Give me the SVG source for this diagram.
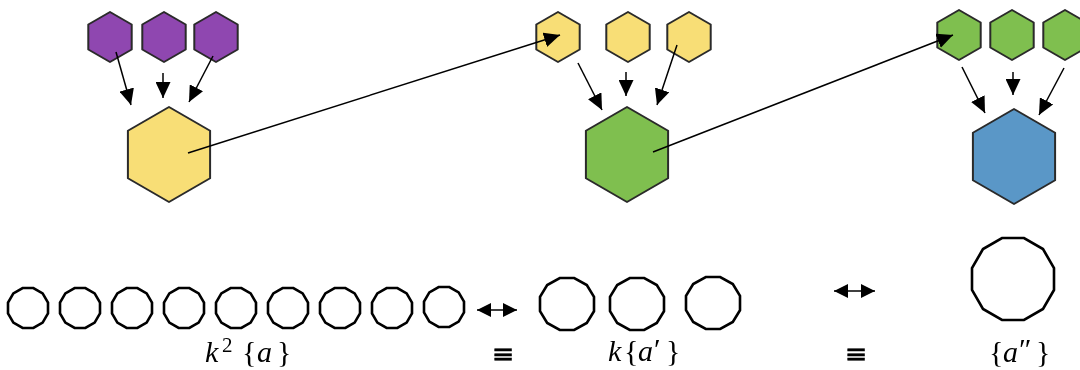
<svg xmlns="http://www.w3.org/2000/svg" width="1080" height="370" viewBox="0 0 1080 370">
  <defs>
    <style>
      .hex { stroke: #2a2a2a; stroke-width: 2; stroke-linejoin: round; }
      .purple { fill: #8f46b0; }
      .yellow { fill: #f8de76; }
      .green { fill: #7fbf4f; }
      .blue { fill: #5a97c7; }
      .edge { stroke: #000; stroke-width: 1.5; fill: none; marker-end: url(#tip); }
      .dbl { stroke: #000; stroke-width: 1.5; fill: none; marker-start: url(#tip2); marker-end: url(#tip2); }
      .ring { fill: #fff; stroke: #000; stroke-width: 2.6; stroke-linejoin: miter; }
      .math { font-family: "Liberation Serif", "DejaVu Serif", serif; font-size: 30px; fill: #000; }
      .it { font-style: italic; }
      .eq { font-family: "DejaVu Sans", "Liberation Sans", sans-serif; font-size: 27px; fill: #000; stroke: #000; stroke-width: 0.5; }
    </style>
    <filter id="soft" x="-10%" y="-10%" width="120%" height="120%">
      <feGaussianBlur stdDeviation="0.5"/>
    </filter>
    <marker id="tip" viewBox="0 0 16 15" refX="16" refY="7.5" markerWidth="16" markerHeight="15" markerUnits="userSpaceOnUse" orient="auto">
      <path d="M0,0 L16,7.5 L0,15 Z" fill="#000"/>
    </marker>
    <marker id="tip2" viewBox="0 0 14 14" refX="14" refY="7" markerWidth="14" markerHeight="14" markerUnits="userSpaceOnUse" orient="auto-start-reverse">
      <path d="M0,0 L14,7 L0,14 Z" fill="#000"/>
    </marker>
    <!-- pointy-top hexagons centred on the origin -->
    <path id="hs" d="M0,-25 L21.7,-12.5 L21.7,12.5 L0,25 L-21.7,12.5 L-21.7,-12.5 Z"/>
    <path id="hb" d="M0,-47.5 L41.1,-23.75 L41.1,23.75 L0,47.5 L-41.1,23.75 L-41.1,-23.75 Z"/>
    <!-- dodecagons (flat on all four sides) -->
    <polygon id="d1" points="20,5.36 14.64,14.64 5.36,20 -5.36,20 -14.64,14.64 -20,5.36 -20,-5.36 -14.64,-14.64 -5.36,-20 5.36,-20 14.64,-14.64 20,-5.36"/>
    <polygon id="d2" points="27,7.2 19.8,19 7.2,26 -7.2,26 -19.8,19 -27,7.2 -27,-7.2 -19.8,-19 -7.2,-26 7.2,-26 19.8,-19 27,-7.2"/>
    <polygon id="d3" points="41,11 30,30 11,41 -11,41 -30,30 -41,11 -41,-11 -30,-30 -11,-41 11,-41 30,-30 41,-11"/>
  </defs>

  <!-- level 0: purple triple feeding the yellow node -->
  <g id="level0" filter="url(#soft)">
    <g id="p1"><use href="#hs" x="110" y="37" class="hex purple"/></g>
    <g id="p2"><use href="#hs" x="164" y="37" class="hex purple"/></g>
    <g id="p3"><use href="#hs" x="216" y="37" class="hex purple"/></g>
    <g id="Y"><use href="#hb" x="169" y="154.5" class="hex yellow"/></g>
  </g>

  <!-- level 1: yellow triple feeding the green node -->
  <g id="level1" filter="url(#soft)">
    <g id="y1"><use href="#hs" x="558" y="37" class="hex yellow"/></g>
    <g id="y2"><use href="#hs" x="628" y="37" class="hex yellow"/></g>
    <g id="y3"><use href="#hs" x="689" y="37" class="hex yellow"/></g>
    <g id="G"><use href="#hb" x="627" y="154.5" class="hex green"/></g>
  </g>

  <!-- level 2: green triple feeding the blue node -->
  <g id="level2" filter="url(#soft)">
    <g id="g1"><use href="#hs" x="959" y="35" class="hex green"/></g>
    <g id="g2"><use href="#hs" x="1012" y="35" class="hex green"/></g>
    <g id="g3"><use href="#hs" x="1065" y="35" class="hex green"/></g>
    <g id="B"><use href="#hb" x="1014" y="156.5" class="hex blue"/></g>
  </g>

  <!-- connectors -->
  <g id="connectors">
    <line class="edge" x1="116" y1="52" x2="131" y2="105"/>
    <line class="edge" x1="163" y1="73" x2="163" y2="98"/>
    <line class="edge" x1="213" y1="56" x2="189" y2="102"/>

    <line class="edge" x1="578" y1="63" x2="602" y2="110"/>
    <line class="edge" x1="626" y1="72" x2="626" y2="96"/>
    <line class="edge" x1="677" y1="45" x2="657" y2="105"/>

    <line class="edge" x1="962" y1="67" x2="985" y2="113"/>
    <line class="edge" x1="1013" y1="72" x2="1013" y2="95"/>
    <line class="edge" x1="1064" y1="68" x2="1039" y2="115"/>

    <line class="edge" x1="188" y1="153" x2="560" y2="35"/>
    <line class="edge" x1="653" y1="152" x2="953" y2="35"/>

    <line class="dbl" x1="477" y1="310" x2="517" y2="310"/>
    <line class="dbl" x1="834" y1="291" x2="875" y2="291"/>
  </g>

  <!-- k^2 copies of {a} -->
  <g id="row-a">
    <use href="#d1" x="28" y="308" class="ring"/>
    <use href="#d1" x="80" y="308" class="ring"/>
    <use href="#d1" x="132" y="308" class="ring"/>
    <use href="#d1" x="184" y="308" class="ring"/>
    <use href="#d1" x="236" y="308" class="ring"/>
    <use href="#d1" x="288" y="308" class="ring"/>
    <use href="#d1" x="340" y="308" class="ring"/>
    <use href="#d1" x="392" y="308" class="ring"/>
    <use href="#d1" x="444" y="307" class="ring"/>
  </g>

  <!-- k copies of {a'} -->
  <g id="row-a1">
    <use href="#d2" x="567" y="304" class="ring"/>
    <use href="#d2" x="637" y="304" class="ring"/>
    <use href="#d2" x="713" y="303" class="ring"/>
  </g>

  <!-- single {a''} -->
  <g id="row-a2">
    <use href="#d3" x="1013" y="279" class="ring"/>
  </g>

  <!-- labels -->
  <g id="labels">
    <text class="math"><tspan class="it" x="205" y="362">k</tspan><tspan x="222" y="352" font-size="21">2</tspan><tspan x="242" y="362">{</tspan><tspan class="it" x="257" y="362">a</tspan><tspan x="277" y="362">}</tspan></text>
    <text class="math"><tspan class="it" x="608" y="361">k</tspan><tspan x="624" y="361">{</tspan><tspan class="it" x="638" y="361">a</tspan><tspan x="654" y="359">′</tspan><tspan x="666" y="361">}</tspan></text>
    <text class="math"><tspan x="989" y="362">{</tspan><tspan class="it" x="1003" y="362">a</tspan><tspan x="1019" y="359">″</tspan><tspan x="1036" y="362">}</tspan></text>
    <text class="eq" x="503" y="363" text-anchor="middle">≡</text>
    <text class="eq" x="856" y="363" text-anchor="middle">≡</text>
  </g>
</svg>
